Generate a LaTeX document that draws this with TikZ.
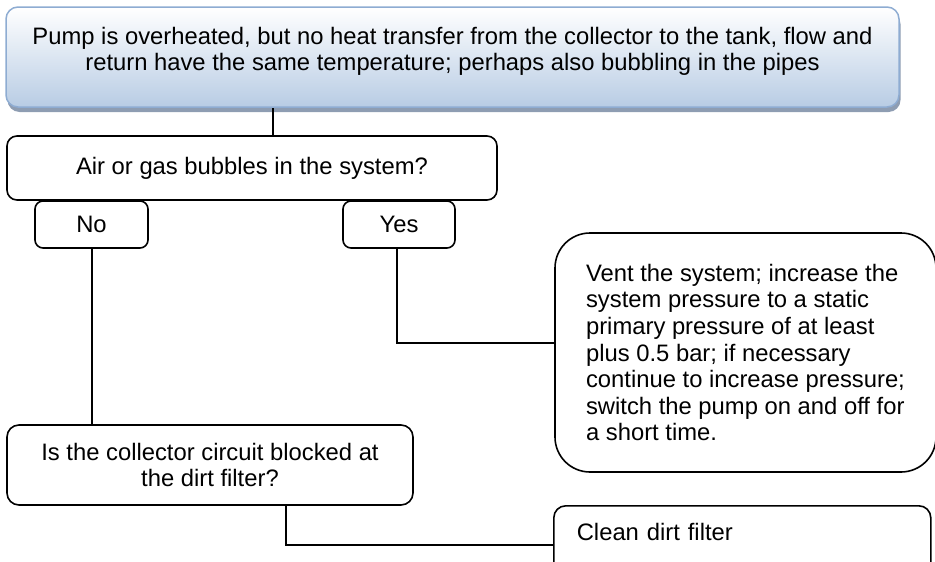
\documentclass[tikz,border=0pt]{standalone}
\usepackage{fontspec}
\setmainfont{Liberation Sans}
\usepackage{xcolor}
\usepackage{tikz}
\usetikzlibrary{shadows}

\definecolor{pumpblue}{RGB}{184,204,228}
\definecolor{pumpedge}{RGB}{142,172,210}
\definecolor{pumpshadow}{RGB}{130,146,170}

\begin{document}
\begin{tikzpicture}[x=1pt,y=-1pt,
    every node/.style={font=\fontsize{23.8}{26.6}\selectfont},
    box/.style={draw,line width=1.6pt,rounded corners=10pt,inner sep=0pt},
    link/.style={line width=1.8pt}]
        \useasboundingbox (0,0) rectangle (935,562);
        \clip (0,0) rectangle (935,562);

        % Problem (blue box)
        \node[draw=pumpedge, line width=1.5pt, rounded corners=12pt,
              top color=white, bottom color=pumpblue,
              drop shadow={shadow xshift=1.5pt, shadow yshift=-5pt, fill=pumpshadow, opacity=0.9},
              minimum width=893pt, minimum height=100pt] (pump) at (452.5,57) {};
        \node[align=center] (pumptext) at (452.5,51.5)
            {Pump is overheated, but no heat transfer from the collector to the tank, flow and\\
             return have the same temperature; perhaps also bubbling in the pipes};

        % First question and answers
        \node[box, minimum width=490pt, minimum height=64pt] (air) at (252,168) {Air or gas bubbles in the system?};
        \node[box, rounded corners=8pt, minimum width=113pt, minimum height=47pt] (no) at (91.5,224.5) {No};
        \node[box, rounded corners=8pt, minimum width=112pt, minimum height=47pt] (yes) at (399,224.5) {Yes};

        % Remedy for bubbles
        \node[box, rounded corners=35pt, minimum width=381pt, minimum height=239pt, align=left] (vent) at (745.5,352.5)
            {Vent the system; increase the\\
             system pressure to a static\\
             primary pressure of at least\\
             plus 0.5 bar; if necessary\\
             continue to increase pressure;\\
             switch the pump on and off for\\
             a short time.};

        % Second question
        \node[box, rounded corners=12pt, minimum width=406pt, minimum height=80pt, align=center] (is) at (210,465)
            {Is the collector circuit blocked at\\the dirt filter?};
        \node[box, rounded corners=12pt, anchor=north west, minimum width=377pt,
              text height=35pt, text depth=35pt, inner xsep=23pt, text width=331pt, align=left] (clean) at (553,505)
            {Clean dirt filter};

        % Connectors
        \draw[link] ([xshift=21pt]air.north) -- ([xshift=21pt]air.north |- pump.south);
        \draw[link] ([xshift=0.5pt]no.south) -- ([xshift=0.5pt]no.south |- is.north);
        \draw[link] ([xshift=-2pt]yes.south) |- ([yshift=9.5pt]vent.west);
        \draw[link] ([xshift=76pt]is.south) |- ([yshift=-4pt]clean.west);
    \end{tikzpicture}
\end{document}
